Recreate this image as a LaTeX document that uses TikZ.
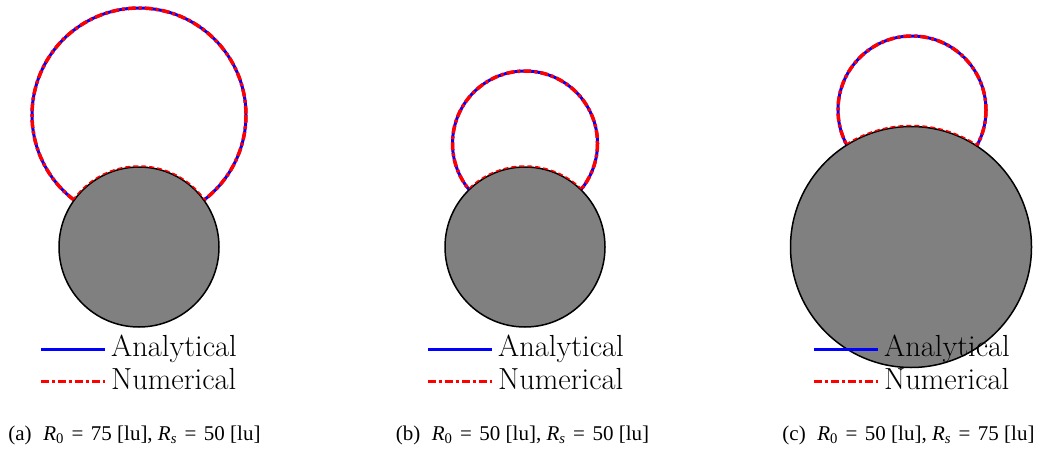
\documentclass[tikz,border=0pt]{standalone}
\usepackage{fontspec}
\setmainfont{Liberation Serif}
\newfontfamily\lmfont{Latin Modern Roman}
\definecolor{solidgray}{RGB}{128,128,128}
\newcommand{\myeq}{\hspace{0.36em}=\hspace{0.36em}}
\tikzset{
  ana/.style={draw=blue, line width=3pt},
  num/.style={draw=red, line width=3.5pt, dash pattern=on 8pt off 3pt on 3pt off 3pt},
  solidbody/.style={fill=solidgray, draw=black, line width=1.5pt},
  film/.style={draw=red, line width=1.5pt, dash pattern=on 5pt off 3pt},
  legtext/.style={font=\lmfont\fontsize{30.5}{30}\selectfont, anchor=base west, inner sep=0pt},
  captext/.style={font=\fontsize{21}{24}\selectfont, anchor=base, inner sep=0pt}
}
\begin{document}
\begin{tikzpicture}[x=1pt,y=-1pt]
\useasboundingbox (0,0) rectangle (1041,450);
% ---------- panel (a)
\coordinate (da) at (139,115);
\coordinate (sa) at (139,247);
\draw[ana] (da) circle (107);
\draw[num] (da) circle (107);
\draw[solidbody] (sa) circle (80);
\begin{scope}
  \clip (da) circle (107);
  \draw[film] (sa) circle (81);
\end{scope}
% ---------- panel (b)
\coordinate (db) at (525,143.5);
\coordinate (sb) at (525,247);
\draw[ana] (db) circle (72.5);
\draw[num] (db) circle (72.5);
\draw[solidbody] (sb) circle (80);
\begin{scope}
  \clip (db) circle (72.5);
  \draw[film] (sb) circle (81);
\end{scope}
% ---------- panel (c)
\coordinate (dc) at (912,110);
\coordinate (sc) at (911,247);
\draw[ana] (dc) circle (74);
\draw[num] (dc) circle (74);
\draw[solidbody] (sc) circle (120.5);
\begin{scope}
  \clip (dc) circle (74);
  \draw[film] (sc) circle (121.5);
\end{scope}
% ---------- legends
\foreach \x/\n in {41/a,428/b,814/c}{
  \coordinate (la1\n) at (\x,349);
  \coordinate (la2\n) at (\x+64,349);
  \coordinate (ln1\n) at (\x,381.5);
  \coordinate (ln2\n) at (\x+64,381.5);
  \draw[ana] (la1\n) -- (la2\n);
  \draw[num] (ln1\n) -- (ln2\n);
  \node[legtext] (ta\n) at (\x+70,356) {Analytical};
  \node[legtext] (tn\n) at (\x+70,389) {Numerical};
}
% ---------- captions
\node[captext] (capa) at (134.5,440) {(a)\hspace{0.55em}\textit{R}\textsubscript{0}\myeq75 [lu], \textit{R}\textsubscript{\textit{s}}\myeq50 [lu]};
\node[captext] (capb) at (522.5,440) {(b)\hspace{0.55em}\textit{R}\textsubscript{0}\myeq50 [lu], \textit{R}\textsubscript{\textit{s}}\myeq50 [lu]};
\node[captext] (capc) at (908.5,440) {(c)\hspace{0.55em}\textit{R}\textsubscript{0}\myeq50 [lu], \textit{R}\textsubscript{\textit{s}}\myeq75 [lu]};
\end{tikzpicture}
\end{document}
